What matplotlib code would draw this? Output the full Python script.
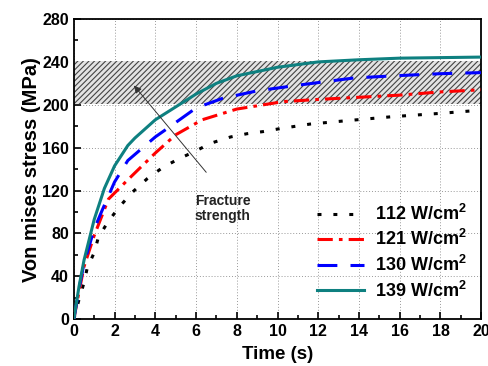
import matplotlib
matplotlib.use("Agg")
import matplotlib.pyplot as plt
from matplotlib.ticker import MultipleLocator

plt.rcParams["font.family"] = ["Liberation Sans", "DejaVu Sans"]
plt.rcParams["font.weight"] = "bold"
plt.rcParams["mathtext.fontset"] = "custom"
plt.rcParams["mathtext.rm"] = "Liberation Sans:bold"
plt.rcParams["mathtext.bf"] = "Liberation Sans:bold"
plt.rcParams["mathtext.it"] = "Liberation Sans:bold"
plt.rcParams["hatch.color"] = "#444444"
plt.rcParams["hatch.linewidth"] = 0.8

# datos
t_112 = [0, 0.25, 0.5, 0.66, 1.0, 1.2, 1.65, 2.2, 2.85, 3.6, 4.4, 5.2, 6.0, 6.7,
         7.7, 8.5, 9.3, 10.2, 11.6, 13.3, 15.7, 18.0, 20.0]
s_112 = [0, 18, 34, 48, 62, 76, 90, 104, 118, 131, 142, 150, 157, 164,
         170, 173, 175, 178, 182, 185, 189, 192, 195]

t_121 = [0, 0.25, 0.5, 1.0, 1.7, 2.65, 4.0, 5.0, 6.3, 8.0, 10.3, 12.0, 14.0, 16.0, 18.0, 20.0]
s_121 = [0, 25, 49, 78, 112, 130, 155, 172, 186, 196, 203, 205, 207, 209, 212, 214]

t_130 = [0, 0.25, 0.5, 1.0, 1.4, 2.0, 2.65, 4.0, 4.6, 6.0, 7.3, 9.0, 10.9, 13.75, 15.7, 18.0, 20.0]
s_130 = [0, 28, 52, 84, 102, 128, 148, 170, 178, 197, 206, 213, 218, 225, 227, 229, 230]

t_139 = [0, 0.25, 0.5, 1.0, 1.5, 2.0, 2.65, 3.0, 4.0, 5.0, 6.0, 7.0, 8.0, 10.0,
         12.0, 14.0, 16.0, 18.0, 20.0]
s_139 = [0, 30, 55, 93, 122, 143, 162, 169, 186, 198, 210, 220, 227, 235,
         240, 242, 243.5, 244, 244.5]

banda = [201, 241]  # resistencia a la fractura

etiquetas = ["112 W/cm$^{2}$", "121 W/cm$^{2}$",
             "130 W/cm$^{2}$", "139 W/cm$^{2}$"]

fig = plt.figure(figsize=(4.89, 3.66), dpi=100)
ax = fig.add_axes([0.151, 0.128, 0.833, 0.820])

ax.axhspan(banda[0], banda[1], facecolor="#e3e3e3", edgecolor="#444444",
           hatch="//////", linewidth=0, zorder=1)

ax.plot(t_112, s_112, color="black", linestyle=(0, (1.3, 3.9)), linewidth=2.2,
        label=etiquetas[0], zorder=3)
ax.plot(t_121, s_121, color="red", linestyle=(0, (5, 2, 1.2, 2)), linewidth=2.2,
        label=etiquetas[1], zorder=3)
ax.plot(t_130, s_130, color="blue", linestyle=(0, (6.5, 4.3)), linewidth=2.2,
        label=etiquetas[2], zorder=3)
ax.plot(t_139, s_139, color="#0e8080", linestyle="-", linewidth=2.2,
        label=etiquetas[3], zorder=3)

ax.annotate("", xy=(2.95, 218), xytext=(6.5, 137),
            arrowprops=dict(arrowstyle="-|>", color="#333333", lw=0.7,
                            shrinkA=0, shrinkB=0, mutation_scale=11),
            zorder=4)
ax.text(5.95, 103, "Fracture\nstrength", ha="left", va="center", fontsize=10,
        fontweight="bold", color="#222222", linespacing=1.05, zorder=4)

ax.set_xlim(0, 20)
ax.set_ylim(0, 280)
ax.xaxis.set_major_locator(MultipleLocator(2))
ax.xaxis.set_minor_locator(MultipleLocator(1))
ax.yaxis.set_major_locator(MultipleLocator(40))
ax.yaxis.set_minor_locator(MultipleLocator(20))
ax.tick_params(which="both", direction="in", labelsize=11.5, width=1.2)
ax.tick_params(which="major", length=5)
ax.tick_params(which="minor", length=3)
for sp in ax.spines.values():
    sp.set_linewidth(1.3)
ax.grid(True, which="major", color="#999999", linestyle=(0, (1, 2)), linewidth=0.7)
ax.set_axisbelow(True)

ax.set_xlabel("Time (s)", fontsize=13.5, fontweight="bold", labelpad=5)
ax.set_ylabel("Von mises stress (MPa)", fontsize=14.5, fontweight="bold", labelpad=1)

ax.legend(loc="lower right", frameon=False, fontsize=13, handlelength=2.6,
          borderaxespad=0.3, labelspacing=0.3, handletextpad=0.6,
          bbox_to_anchor=(0.995, 0.02))

fig.savefig("out.png", dpi=100)
